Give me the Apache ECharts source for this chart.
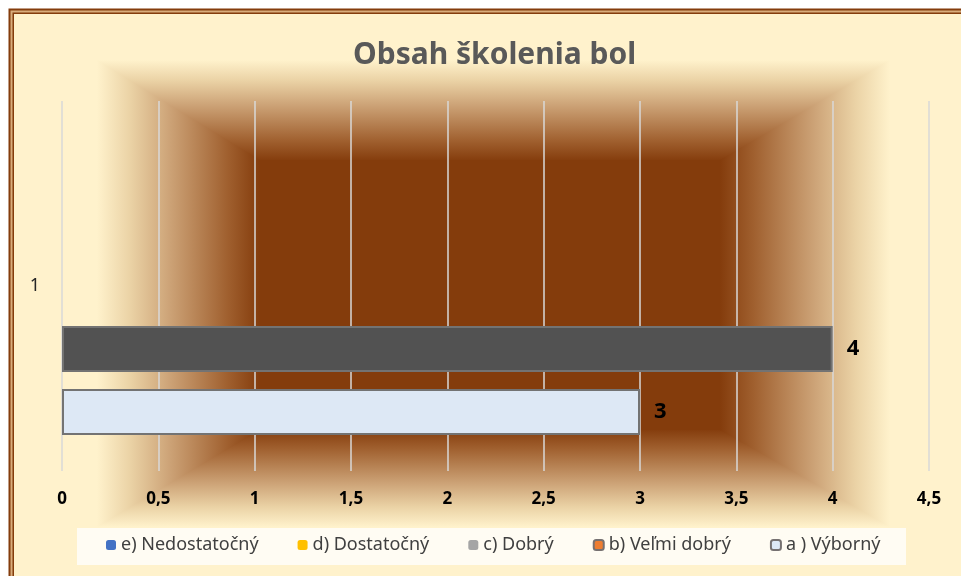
<!DOCTYPE html>
<html>
<head>
<meta charset="utf-8">
<style>
  html, body { margin: 0; padding: 0; background: #fff; }
  #main { width: 961px; height: 576px; }
</style>
<script src="https://cdn.jsdelivr.net/npm/echarts@6/dist/echarts.min.js"></script>
</head>
<body>
<div id="main"></div>
<script>
// data
var categories = ['1'];
var seriesNames = ['e) Nedostatočný', 'd) Dostatočný', 'c) Dobrý', 'b) Veľmi dobrý', 'a ) Výborný'];
var valuesE = [null];
var valuesD = [null];
var valuesC = [null];
var valuesB = [4];
var valuesA = [3];
var xTicks = [0, 0.5, 1, 1.5, 2, 2.5, 3, 3.5, 4, 4.5];

var FONT = 'Noto Sans';
var cream = '#fff2cc';
var dark = '#843c0c';

// rectangular "from center" gradient behind the plot
var outer = { x0: 97, x1: 890, y0: 60, y1: 527 };
var inner = { x0: 260, x1: 720, y0: 160, y1: 430 };

function grad(x, y, x2, y2) {
  return {
    type: 'linear', x: x, y: y, x2: x2, y2: y2,
    colorStops: [
      { offset: 0, color: cream },
      { offset: 0.2, color: '#ebd3a6' },
      { offset: 0.45, color: '#cca276' },
      { offset: 0.8, color: '#a0602f' },
      { offset: 1, color: dark }
    ]
  };
}

var bgElements = [
  // outer frame
  { type: 'rect', z: -30, silent: true, shape: { x: 8.5, y: 8.5, width: 1000, height: 1000 }, style: { fill: '#843c0c' } },
  { type: 'rect', z: -29, silent: true, shape: { x: 10.5, y: 10.5, width: 1000, height: 1000 }, style: { fill: '#d9ad7c' } },
  { type: 'rect', z: -28, silent: true, shape: { x: 12.5, y: 12.5, width: 1000, height: 1000 }, style: { fill: '#843c0c' } },
  { type: 'rect', z: -27, silent: true, shape: { x: 14, y: 14, width: 1000, height: 1000 }, style: { fill: cream } },
  // top and bottom bands full width, sides drawn over them
  { type: 'rect', z: -22, silent: true,
    shape: { x: outer.x0, y: outer.y0, width: outer.x1 - outer.x0, height: inner.y0 - outer.y0 + 1 },
    style: { fill: grad(0, 0, 0, 1) } },
  { type: 'rect', z: -22, silent: true,
    shape: { x: outer.x0, y: inner.y1 - 1, width: outer.x1 - outer.x0, height: outer.y1 - inner.y1 + 1 },
    style: { fill: grad(0, 1, 0, 0) } },
  { type: 'rect', z: -22, silent: true,
    shape: { x: outer.x0, y: inner.y0, width: outer.x1 - outer.x0, height: inner.y1 - inner.y0 },
    style: { fill: dark } },
  { type: 'polygon', z: -20, silent: true,
    shape: { points: [[outer.x0, outer.y0], [inner.x0, inner.y0], [inner.x0, inner.y1], [outer.x0, outer.y1]] },
    style: { fill: grad(0, 0, 1, 0) } },
  { type: 'polygon', z: -20, silent: true,
    shape: { points: [[outer.x1, outer.y0], [inner.x1, inner.y0], [inner.x1, inner.y1], [outer.x1, outer.y1]] },
    style: { fill: grad(1, 0, 0, 0) } },
  // legend box
  { type: 'rect', z: -5, silent: true, shape: { x: 77, y: 528, width: 829, height: 37 }, style: { fill: '#fffcf3' } }
];

var chart = echarts.init(document.getElementById('main'));

var barBase = { type: 'bar', barWidth: 46, barGap: '37%' };
var labelStyle = { show: true, position: 'right', distance: 14, color: '#000', fontSize: 22, fontWeight: 'bold', fontFamily: FONT };

chart.setOption({
  backgroundColor: '#ffffff',
  animation: false,
  graphic: { elements: bgElements },
  title: {
    text: 'Obsah školenia bol',
    left: 348,
    top: 35,
    textStyle: { fontFamily: FONT, fontSize: 30, fontWeight: 'bold', color: '#595959' }
  },
  legend: {
    top: 536,
    left: 106,
    itemWidth: 10,
    itemHeight: 10,
    itemGap: 39,
    padding: 0,
    textStyle: { fontFamily: FONT, fontSize: 18, color: '#404040' },
    data: [
      { name: seriesNames[0], itemStyle: { color: '#4472c4', borderWidth: 0 } },
      { name: seriesNames[1], itemStyle: { color: '#ffc000', borderWidth: 0 } },
      { name: seriesNames[2], itemStyle: { color: '#a5a5a5', borderWidth: 0 } },
      { name: seriesNames[3], itemStyle: { color: '#ed7d31', borderColor: '#767171', borderWidth: 2 } },
      { name: seriesNames[4], itemStyle: { color: '#dde8f5', borderColor: '#767171', borderWidth: 2 } }
    ]
  },
  grid: { left: 62, right: 32, top: 101, bottom: 105 },
  xAxis: {
    type: 'value',
    min: xTicks[0],
    max: xTicks[xTicks.length - 1],
    interval: 0.5,
    axisLine: { show: false },
    axisTick: { show: false },
    splitLine: { lineStyle: { color: '#d9d9d9', width: 1.5 } },
    axisLabel: {
      margin: 20,
      fontFamily: FONT, fontSize: 17, fontWeight: 'bold', color: '#000',
      formatter: function (v) { return String(v).replace('.', ','); }
    }
  },
  yAxis: {
    type: 'category',
    data: categories,
    axisLine: { show: false },
    axisTick: { show: false },
    axisLabel: { margin: 22, fontFamily: FONT, fontSize: 18, color: '#262626' }
  },
  series: [
    Object.assign({}, barBase, { name: seriesNames[0], data: valuesE, itemStyle: { color: '#4472c4' }, label: labelStyle }),
    Object.assign({}, barBase, { name: seriesNames[1], data: valuesD, itemStyle: { color: '#ffc000' }, label: labelStyle }),
    Object.assign({}, barBase, { name: seriesNames[2], data: valuesC, itemStyle: { color: '#a5a5a5' }, label: labelStyle }),
    Object.assign({}, barBase, { name: seriesNames[3], data: valuesB, itemStyle: { color: '#525252', borderColor: '#737373', borderWidth: 2 }, label: labelStyle }),
    Object.assign({}, barBase, { name: seriesNames[4], data: valuesA, itemStyle: { color: '#dde8f5', borderColor: '#737373', borderWidth: 2 }, label: labelStyle })
  ]
});
</script>
</body>
</html>
